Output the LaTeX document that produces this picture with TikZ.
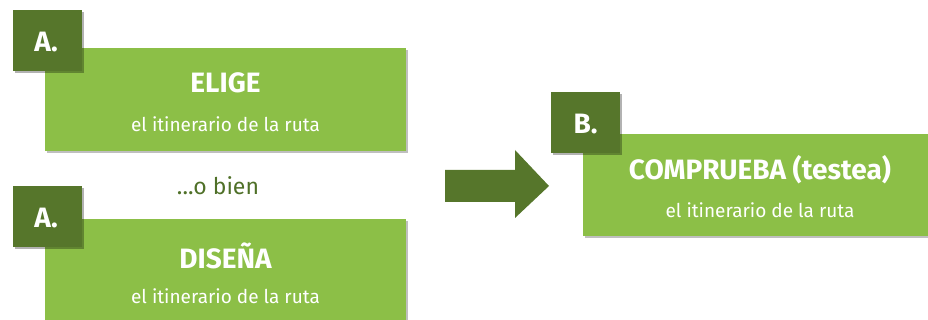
\documentclass[tikz,border=0pt]{standalone}
\usepackage{fontspec}
\setmainfont{Fira Sans}
\usetikzlibrary{shadows}
\definecolor{lightg}{HTML}{8CBF47}
\definecolor{darkg}{HTML}{56762B}
\definecolor{textg}{HTML}{4F7028}
\begin{document}
\begin{tikzpicture}[x=1pt,y=-1pt,
  mainbox/.style={fill=lightg, draw=none, drop shadow={shadow xshift=1.5pt, shadow yshift=-2pt, opacity=0.25, fill=black}},
  tagbox/.style={fill=darkg, draw=none, drop shadow={shadow xshift=1.5pt, shadow yshift=-2pt, opacity=0.3, fill=black}},
  titletext/.style={text=white, font=\fontsize{28}{31}\selectfont\bfseries},
  subtext/.style={text=white, font=\fontsize{19}{22}\selectfont}]
\useasboundingbox (0,0) rectangle (928,320);
% box 1
\path[mainbox] (45,48) rectangle (406,151);
\node[titletext] (t1) at (225.5,83) {ELIGE};
\node[subtext] (s1) at (225.5,124) {el itinerario de la ruta};
\path[tagbox] (13,10) rectangle (82,71);
\node[titletext] (a1) at (46,42) {A.};
% or
\node[text=textg, font=\fontsize{23}{27}\selectfont] (or) at (218,186) {...o bien};
% box 2
\path[mainbox] (45,219) rectangle (406,330);
\node[titletext] (t2) at (225.5,256) {DISEÑA};
\node[subtext] (s2) at (225.5,296) {el itinerario de la ruta};
\path[tagbox] (13,186) rectangle (82,247);
\node[titletext] (a2) at (46,218) {A.};
% arrow
\fill[darkg] (445,170) -- (515,170) -- (515,150) -- (549,186) -- (515,218) -- (515,202) -- (445,202) -- cycle;
% box B
\path[mainbox] (583,134) rectangle (930,236);
\node[titletext] (t3) at (760,170) {COMPRUEBA (testea)};
\node[subtext] (s3) at (760,210) {el itinerario de la ruta};
\path[tagbox] (551,92) rectangle (620,153);
\node[titletext] (b1) at (585.5,124) {B.};
\end{tikzpicture}
\end{document}
